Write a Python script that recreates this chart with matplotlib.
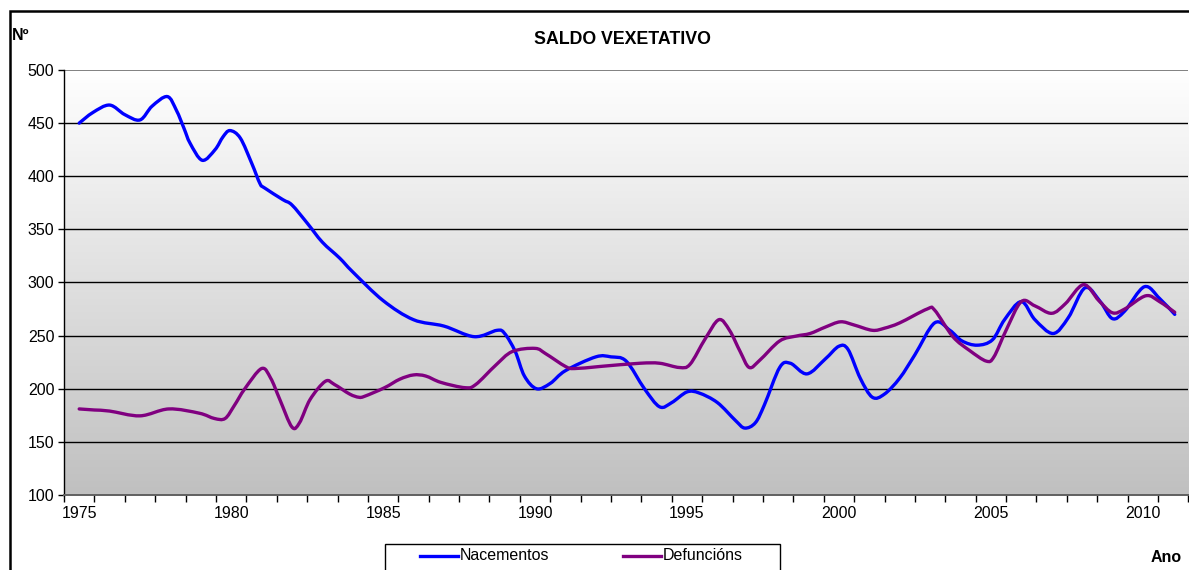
import numpy as np
import matplotlib
matplotlib.use("Agg")
import matplotlib.pyplot as plt
from matplotlib.patches import Rectangle, PathPatch
from matplotlib.lines import Line2D
from matplotlib.path import Path

plt.rcParams['font.family'] = ['Liberation Sans', 'DejaVu Sans']

# ---- data ----
nac_year = [1975.0, 1975.45, 1976.0, 1976.5, 1977.0, 1977.4, 1977.9, 1978.2, 1978.45, 1978.65,
            1979.05, 1979.47, 1979.73, 1979.96, 1980.3, 1980.68, 1980.95, 1981.1, 1981.7, 1982.0,
            1982.5, 1983.0, 1983.57, 1984.0, 1985.0, 1986.0, 1987.0, 1988.0, 1988.75, 1989.0,
            1989.35, 1989.65, 1990.05, 1990.5, 1991.0, 1992.0, 1992.5, 1993.0, 1993.6, 1994.1,
            1994.5, 1995.0, 1995.4, 1996.0, 1996.6, 1996.9, 1997.25, 1997.55, 1998.05, 1998.4,
            1998.95, 1999.55, 2000.0, 2000.3, 2000.7, 2001.1, 2001.5, 2002.0, 2002.5, 2003.15,
            2003.65, 2004.05, 2004.55, 2005.05, 2005.45, 2006.0, 2006.45, 2007.05, 2007.55, 2008.1,
            2008.6, 2009.0, 2009.4, 2010.05, 2010.55, 2011.05]
nacementos = [450, 460, 467, 458, 453, 466, 475, 462, 445, 431,
              415, 425, 437, 443, 436, 412, 393, 389, 378, 373,
              356, 338, 323, 310, 283, 265, 259, 249, 255, 252,
              235, 212, 200, 205, 217, 230, 230, 226, 200, 183,
              187, 197, 196, 187, 170, 163, 168, 185, 220, 224,
              214, 228, 240, 237, 210, 192, 195, 210, 232, 262,
              255, 245, 241, 246, 265, 282, 265, 252, 267, 295,
              282, 266, 273, 296, 285, 270]

def_year = [1975.0, 1975.5, 1976.0, 1977.0, 1977.95, 1978.95, 1979.45, 1979.8, 1980.1, 1980.45,
            1981.0, 1981.3, 1981.6, 1982.0, 1982.25, 1982.6, 1983.1, 1983.4, 1983.9, 1984.2,
            1984.4, 1985.05, 1985.55, 1986.0, 1986.4, 1986.9, 1987.7, 1988.05, 1988.7, 1989.25,
            1990.0, 1990.35, 1991.0, 1991.3, 1992.15, 1993.45, 1994.1, 1994.75, 1995.1, 1995.6,
            1996.05, 1996.4, 1996.75, 1997.05, 1997.4, 1998.05, 1998.6, 1999.05, 1999.55, 2000.05,
            2000.5, 2001.1, 2001.5, 2002.0, 2002.9, 2003.15, 2003.75, 2004.3, 2004.85, 2005.1,
            2005.5, 2006.0, 2006.45, 2007.0, 2007.45, 2008.05, 2008.55, 2009.0, 2009.4, 2010.1,
            2010.55, 2011.05]
defuncions = [181, 180, 179, 174.5, 181, 177, 172, 172, 184, 200,
              219, 210, 190, 164, 168, 190, 207, 204, 195, 192,
              193, 201, 209, 213, 212, 206, 201, 204, 222, 235,
              238, 233, 221, 219, 221, 224, 224, 220, 223, 247,
              265, 255, 235, 220, 227, 245, 249.6, 252, 258, 263,
              260, 255, 257, 262, 275, 274, 249, 236, 226, 230,
              255, 282, 278, 271, 280, 298, 283, 271.5, 275, 287.5,
              282, 272]

year_labels = [1975, 1980, 1985, 1990, 1995, 2000, 2005, 2010]
y_ticks = [100, 150, 200, 250, 300, 350, 400, 450, 500]


def smooth_path(xs, ys):
    """Excel-like smoothed line: cubic Bezier segments through every point."""
    pts = np.column_stack([xs, ys]).astype(float)
    n = len(pts)
    verts = [pts[0]]
    codes = [Path.MOVETO]
    for i in range(n - 1):
        p0 = pts[i - 1] if i > 0 else pts[i]
        p1 = pts[i]
        p2 = pts[i + 1]
        p3 = pts[i + 2] if i + 2 < n else pts[i + 1]
        c1 = p1 + (p2 - p0) / 6.0
        c2 = p2 - (p3 - p1) / 6.0
        verts += [c1, c2, p2]
        codes += [Path.CURVE4] * 3
    return Path(verts, codes)


W, H = 1189, 570
fig = plt.figure(figsize=(W / 100, H / 100), dpi=100)

def fx(px):
    return px / W

def fy(py):
    return 1 - py / H

# chart outer frame
fig.add_artist(Rectangle((fx(10), fy(600)), fx(1300), fy(11) - fy(600),
                         transform=fig.transFigure, fill=False, edgecolor='black', lw=1.8))

ax = fig.add_axes([fx(64), fy(495), fx(1188.4) - fx(64), fy(70) - fy(495)])
ax.set_xlim(1974.5, 2011.5)
ax.set_ylim(100, 500)

# gradient background
grad = np.linspace(0, 1, 256).reshape(-1, 1)
ax.imshow(grad, cmap=matplotlib.colors.LinearSegmentedColormap.from_list(
    'g', ['#ffffff', '#c0c0c0']), aspect='auto', extent=[0, 1, 0, 1],
    transform=ax.transAxes, zorder=0, origin='upper')

for v in y_ticks[1:-1]:
    ax.axhline(v, color='black', lw=1.0, zorder=1)
ax.axhline(500, color='#808080', lw=1.4, zorder=1)

for xs, ys, col in [(nac_year, nacementos, '#0000ff'), (def_year, defuncions, '#800080')]:
    ax.add_patch(PathPatch(smooth_path(xs, ys), facecolor='none', edgecolor=col,
                           lw=2.4, zorder=3, joinstyle='round', capstyle='round'))

for s in ['top', 'right']:
    ax.spines[s].set_visible(False)
ax.spines['left'].set_color('black')
ax.spines['left'].set_linewidth(1.0)
ax.spines['bottom'].set_color('#606060')
ax.spines['bottom'].set_linewidth(1.4)

ax.set_yticks(y_ticks)
ax.set_yticklabels([str(v) for v in y_ticks], fontsize=11.5)
ax.tick_params(axis='y', direction='out', length=4, width=1, pad=3)

ax.set_xticks(np.arange(1974.5, 2012, 1.0))
ax.set_xticklabels([])
ax.tick_params(axis='x', which='major', direction='out', length=5, width=1)
ax.set_xticks(year_labels, minor=True)
ax.set_xticklabels([str(y) for y in year_labels], minor=True, fontsize=11.5)
ax.tick_params(axis='x', which='minor', length=0, pad=8)

fig.text(fx(622), fy(40), 'SALDO VEXETATIVO', ha='center', va='center',
         fontsize=12.8, fontweight='bold')
fig.text(fx(12), fy(35), 'Nº', ha='left', va='center', fontsize=11.5, fontweight='bold')
fig.text(fx(1166), fy(558), 'Ano', ha='center', va='center', fontsize=11.5, fontweight='bold')

# legend box (cut at bottom)
fig.add_artist(Rectangle((fx(385), fy(600)), fx(780) - fx(385), fy(544) - fy(600),
                         transform=fig.transFigure, facecolor='white',
                         edgecolor='black', lw=1.0))
fig.add_artist(Line2D([fx(420), fx(458)], [fy(556), fy(556)], color='#0000ff', lw=2.4,
                      transform=fig.transFigure))
fig.text(fx(460), fy(556), 'Nacementos', ha='left', va='center', fontsize=11.5)
fig.add_artist(Line2D([fx(623), fx(661)], [fy(556), fy(556)], color='#800080', lw=2.4,
                      transform=fig.transFigure))
fig.text(fx(663), fy(556), 'Defuncións', ha='left', va='center', fontsize=11.5)

fig.savefig('out.png', dpi=100)
